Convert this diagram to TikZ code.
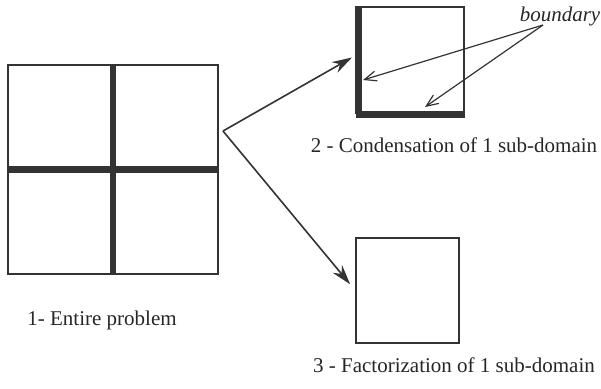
\documentclass[tikz,border=0pt]{standalone}
\usepackage{fontspec}
\setmainfont{Liberation Serif}
\newfontfamily\capfont{Liberation Serif}
\usetikzlibrary{arrows.meta}

\tikzset{
	subbox/.style={draw=black!80, line width=0.7pt, inner sep=0pt},
	bound/.style={line width=3.4pt, black!80},
	caption/.style={black!85, font=\capfont\fontsize{10.5}{12}\selectfont},
	pointer/.style={-{Stealth[length=10pt,width=6pt]}, line width=0.8pt, black!80},
	tag/.style={-{Straight Barb[length=6pt,width=5pt]}, line width=0.6pt, black!80}
}

\begin{document}
\begin{tikzpicture}[x=0.5pt, y=-0.5pt]
		\useasboundingbox (0, 0) rectangle (601, 388);

		% the entire problem, cut in four
		\node (whole) [subbox, minimum width=105pt, minimum height=104.5pt] at (113, 169.5) {};
		\draw [bound] (whole.north) -- (whole.south);
		\draw [bound] (whole.west) -- (whole.east);
		\node (cap1) [caption] at (102, 320) {1- Entire problem};

		% condensed sub-domain, boundary on two sides
		\node (sub2) [subbox, minimum width=53.5pt, minimum height=53pt] at (410.5, 60) {};
		\draw [bound] ([xshift=1.2pt]sub2.north west) -- ([xshift=1.2pt]sub2.south west);
		\draw [bound] ([yshift=-0.3pt]sub2.south west) -- ([yshift=-0.3pt]sub2.south east);
		\node (cap2) [caption] at (454, 145) {2 - Condensation of 1 sub-domain};

		% factorized sub-domain
		\node (sub3) [subbox, minimum width=51.5pt, minimum height=52.5pt] at (407.5, 290.5) {};
		\node (cap3) [caption] at (454, 365) {3 - Factorization of 1 sub-domain};

		% arrows out of the whole problem
		\coordinate (fork) at (223, 131);
		\draw [pointer, shorten >=2.5pt] (fork) -- ([yshift=2.5pt]sub2.west);
		\draw [pointer, shorten >=4pt] (fork) -- (sub3.west);

		% boundary label
		\node (bnd) [caption, font=\capfont\fontsize{10.5}{12}\selectfont\itshape] at (560, 16) {boundary};
		\coordinate (bfork) at (543, 25);
		\coordinate (bleft) at (363, 80);
		\coordinate (bbottom) at (425, 107);
		\draw [tag] (bfork) -- (bleft);
		\draw [tag] (bfork) -- (bbottom);
	\end{tikzpicture}
\end{document}
